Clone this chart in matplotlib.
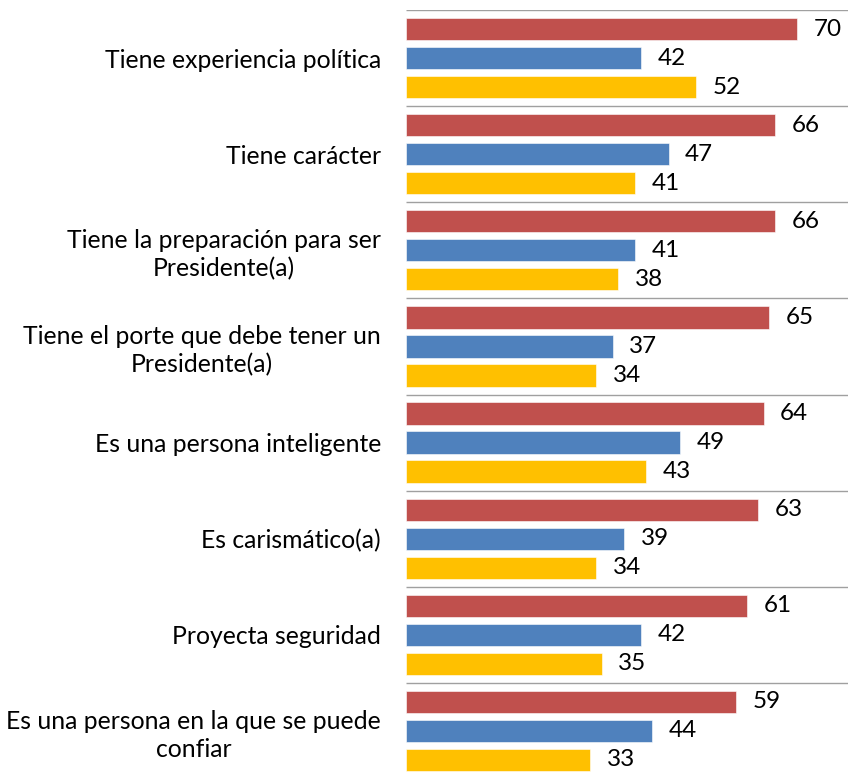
import matplotlib
matplotlib.use('Agg')
import matplotlib.pyplot as plt
import numpy as np

# ------------------------------------------------------------------
categories = ['Tiene experiencia política',
              'Tiene carácter',
              'Tiene la preparación para ser\nPresidente(a)',
              'Tiene el porte que debe tener un\nPresidente(a)',
              'Es una persona inteligente',
              'Es carismático(a)',
              'Proyecta seguridad',
              'Es una persona en la que se puede\nconfiar']
serie_rojo = [70, 66, 66, 65, 64, 63, 61, 59]
serie_azul = [42, 47, 41, 37, 49, 39, 42, 44]
serie_amarillo = [52, 41, 38, 34, 43, 34, 35, 33]
colores = ['#C0504D', '#4F81BD', '#FFC000']

plt.rcParams['font.family'] = ['Lato', 'DejaVu Sans']

W, H = 848, 777
fig = plt.figure(figsize=(W / 100, H / 100), dpi=100)
ax = fig.add_axes([406 / W, 1 - 779 / H, 1 - 406 / W, (779 - 10) / H])

y = np.arange(len(categories))
step = 0.302
alto = 0.232
for k, (vals, c) in enumerate(zip([serie_rojo, serie_azul, serie_amarillo], colores)):
    pos = y + (k - 1) * step
    ax.barh(pos, vals, height=alto, color=c, edgecolor='white', linewidth=0.4)
    for p, v in zip(pos, vals):
        ax.annotate(str(v), (v, p), xytext=(12, 0), textcoords='offset points',
                    ha='left', va='center', fontsize=17.5, color='#000000')

# separadores entre grupos
xmax = (W - 406) / 5.586
ax.hlines(np.arange(-0.5, len(categories), 1), 0, xmax, color='#A0A0A0', lw=1.0)

ax.set_xlim(0, xmax)
ax.set_ylim(len(categories) - 0.5, -0.5)
ax.set_yticks(y)
ax.set_yticklabels(categories, fontsize=17.8, linespacing=1.25)
for lbl in ax.get_yticklabels():
    lbl.set_multialignment('center')
ax.tick_params(axis='y', length=0, pad=18)
ax.set_xticks([])
for s in ax.spines.values():
    s.set_visible(False)

fig.savefig('out.png', dpi=100)
